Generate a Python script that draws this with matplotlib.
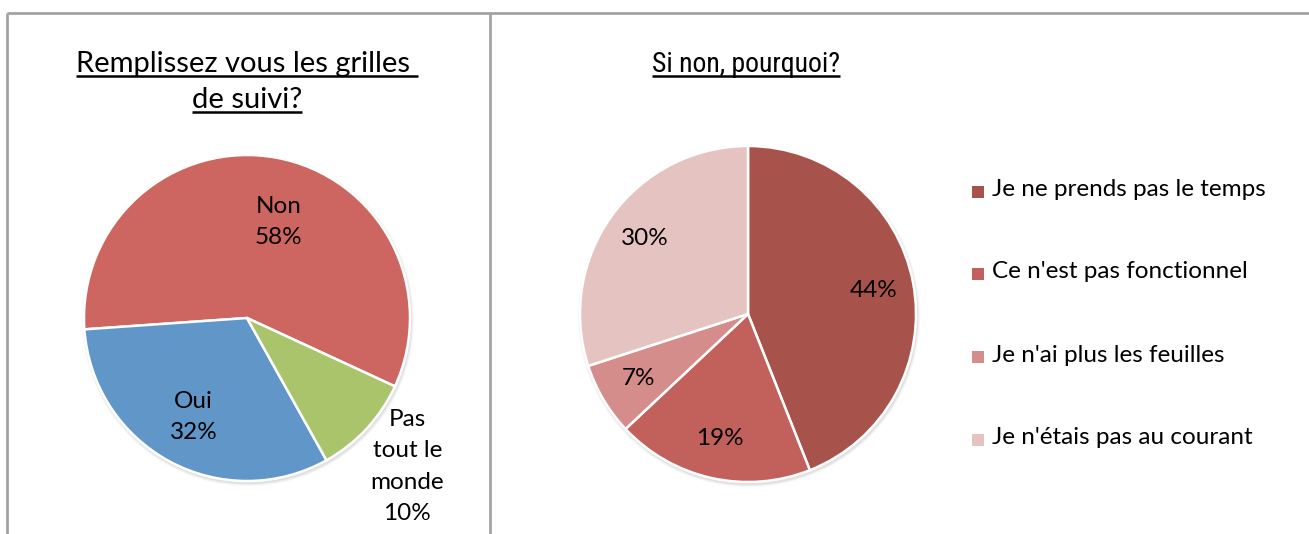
import matplotlib
matplotlib.use("Agg")
import matplotlib.pyplot as plt
from matplotlib import font_manager
import numpy as np

# ---- data ----
left_title = ["Remplissez vous les grilles ", "de suivi?"]
left_labels = ["Non", "Oui", "Pas\ntout le\nmonde"]
left_values = [58, 32, 10]
left_colors = ["#CD6660", "#6196C9", "#A9C46B"]

right_title = "Si non, pourquoi?"
right_labels = ["Je ne prends pas le temps", "Ce n'est pas fonctionnel",
                "Je n'ai plus les feuilles", "Je n'étais pas au courant"]
right_values = [44, 19, 7, 30]
right_colors = ["#A8524C", "#C2605B", "#D58D8B", "#E5C3C1"]

W, H = 1309, 534
fig = plt.figure(figsize=(W / 100, H / 100), dpi=100)
ax = fig.add_axes([0, 0, 1, 1])

FONT = "Lato"
FS = 17.5
names = {f.name for f in font_manager.fontManager.ttflist}
NARROW = "DejaVu Sans"
for cand in ["Roboto Condensed", "Open Sans Condensed", "Liberation Sans Narrow",
             "Noto Sans Condensed", "DejaVu Sans Condensed"]:
    if cand in names:
        NARROW = cand
        break

border = "#A3A3A3"
ax.plot([7, 7], [0, H - 13], color=border, lw=2, solid_capstyle="butt")
ax.plot([7, W], [H - 13, H - 13], color=border, lw=2, solid_capstyle="butt")
ax.plot([490, 490], [0, H - 13], color=border, lw=2, solid_capstyle="butt")

# ---- left pie ----
lc = (247, H - 318)
lr = 163
for k, a in enumerate([0.05, 0.04, 0.03]):
    ax.add_patch(plt.Circle((lc[0] + 1, lc[1] - 2), lr + 1 + k, color="black", alpha=a, lw=0))
wl, _ = ax.pie(left_values, colors=left_colors, startangle=-24.8, counterclock=True,
               center=lc, radius=lr, frame=True,
               wedgeprops=dict(edgecolor="white", linewidth=1.8))
ldist = [0.62, 0.69, 1.34]
langle_shift = [-8, 0, 0]
for w, lab, v, d, s in zip(wl, left_labels, left_values, ldist, langle_shift):
    th = np.deg2rad((w.theta1 + w.theta2) / 2 + s)
    x = lc[0] + d * lr * np.cos(th)
    y = lc[1] + d * lr * np.sin(th)
    ax.text(x, y, f"{lab}\n{v}%", ha="center", va="center", fontsize=FS,
            family=FONT, linespacing=1.6, color="black")

# ---- right pie ----
rc = (748, H - 314)
rr = 168
for k, a in enumerate([0.05, 0.04, 0.03]):
    ax.add_patch(plt.Circle((rc[0] + 1, rc[1] - 2), rr + 1 + k, color="black", alpha=a, lw=0))
wr, _ = ax.pie(right_values, colors=right_colors, startangle=90, counterclock=False,
               center=rc, radius=rr, frame=True,
               wedgeprops=dict(edgecolor="white", linewidth=1.8))
for w, v in zip(wr, right_values):
    th = np.deg2rad((w.theta1 + w.theta2) / 2)
    x = rc[0] + 0.76 * rr * np.cos(th)
    y = rc[1] + 0.76 * rr * np.sin(th)
    ax.text(x, y, f"{v}%", ha="center", va="center", fontsize=FS, family=FONT, color="black")

ax.set_xlim(0, W)
ax.set_ylim(0, H)
ax.set_aspect("equal")
ax.axis("off")

# legend
leg_y = [190, 272, 355, 438]
for yy, lab, col in zip(leg_y, right_labels, right_colors):
    ax.add_patch(plt.Rectangle((972, H - yy - 8), 12, 12, color=col, lw=0))
    ax.text(992, H - yy, lab, ha="left", va="center", fontsize=FS, family=FONT, color="black")

# titles (each line drawn separately, then underlined)
TFS = 21
title_texts = []
for ln, base in zip(left_title, [72, 108]):
    t = ax.text(247, H - base, ln, ha="center", va="baseline", fontsize=TFS,
                family=FONT, color="black")
    title_texts.append((t, base))
t2 = ax.text(746, H - 72, right_title, ha="center", va="baseline", fontsize=20,
             family=NARROW, color="black")
title_texts.append((t2, 72))

fig.canvas.draw()
r = fig.canvas.get_renderer()
inv = ax.transData.inverted()
for t, base in title_texts:
    b = t.get_window_extent(r)
    (x0, _), (x1, _) = inv.transform([[b.x0, 0], [b.x1, 0]])
    yl = H - base - 3.5
    ax.plot([x0, x1], [yl, yl], color="black", lw=1.8, solid_capstyle="butt")

fig.savefig("out.png", dpi=100)
